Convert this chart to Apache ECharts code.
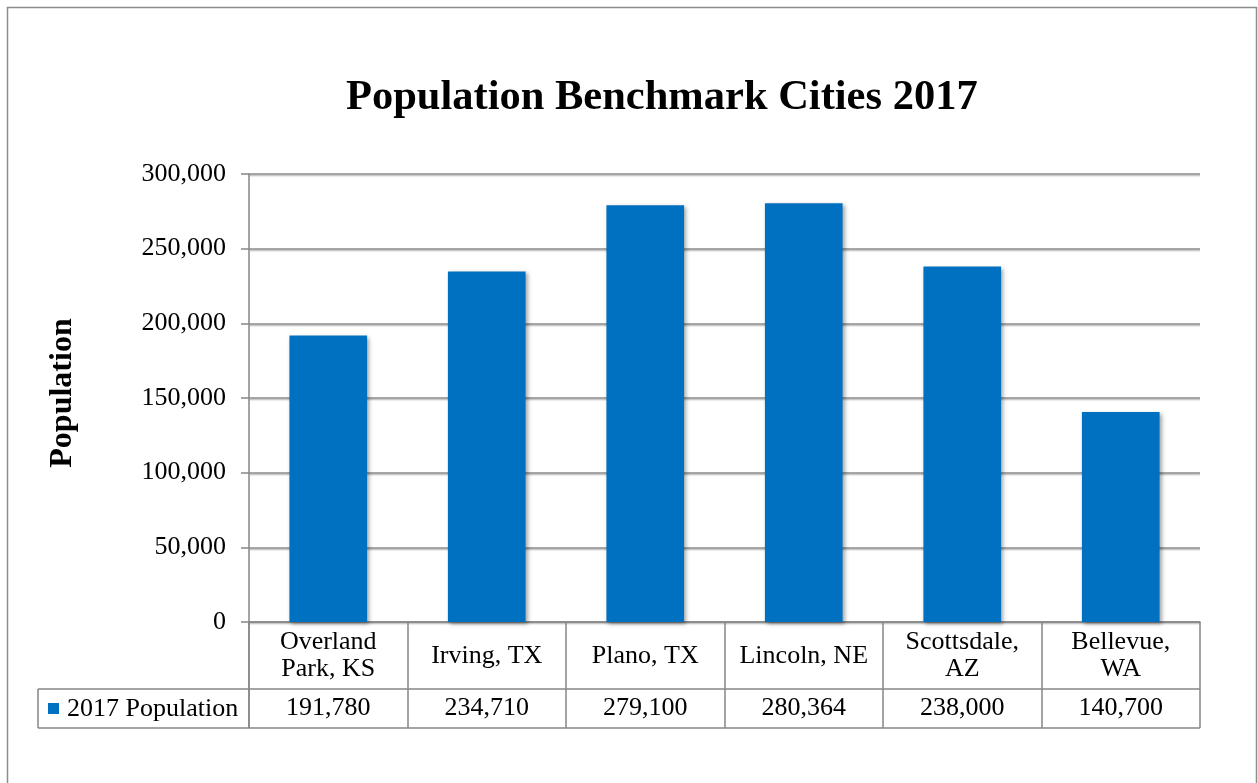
<!DOCTYPE html>
<html>
<head>
<meta charset="utf-8">
<script src="https://cdn.jsdelivr.net/npm/echarts@6/dist/echarts.min.js"></script>
<style>
html,body{margin:0;padding:0;background:#fff;}
#chart{width:1258px;height:783px;}
</style>
</head>
<body>
<div id="chart"></div>
<script>
const chartTitle = 'Population Benchmark Cities 2017';
const seriesName = '2017 Population';
const yAxisName = 'Population';
const categories = ['Overland\nPark, KS', 'Irving, TX', 'Plano, TX', 'Lincoln, NE', 'Scottsdale,\nAZ', 'Bellevue,\nWA'];
const population = [191780, 234710, 279100, 280364, 238000, 140700];
const yTicks = [0, 50000, 100000, 150000, 200000, 250000, 300000];

const FONT = '"Liberation Serif", "Times New Roman", serif';
const fmt = v => v.toLocaleString('en-US');

const G = {left: 249, right: 1200, top: 174, bottom: 622};
const rowMid = 689, rowBot = 728, tableLeft = 38;

const chart = echarts.init(document.getElementById('chart'));
chart.setOption({
  backgroundColor: '#fff',
  animation: false,
  title: {
    text: chartTitle, left: 341, top: 72,
    textStyle: {fontFamily: FONT, fontSize: 42.5, fontWeight: 'bold', color: '#000'}
  },
  grid: {left: G.left, right: 1258 - G.right, top: G.top, bottom: 783 - G.bottom, containLabel: false},
  xAxis: [{
    type: 'category', data: categories, position: 'bottom',
    axisLine: {show: true, lineStyle: {color: '#868686', width: 1.5}},
    axisTick: {show: true, length: rowBot - G.bottom, lineStyle: {color: '#868686', width: 1.5}},
    axisLabel: {fontFamily: FONT, fontSize: 26, color: '#000', lineHeight: 27, margin: 34, verticalAlign: 'middle', interval: 0}
  }, {
    type: 'category', data: population.map(fmt), position: 'bottom',
    axisLine: {show: false}, axisTick: {show: false},
    axisLabel: {fontFamily: FONT, fontSize: 26, color: '#000', margin: 86, verticalAlign: 'middle', interval: 0}
  }],
  yAxis: {
    type: 'value', min: yTicks[0], max: yTicks[yTicks.length - 1], interval: 50000,
    name: yAxisName, nameLocation: 'middle', nameGap: 170, nameRotate: 90,
    nameTextStyle: {fontFamily: FONT, fontSize: 32, fontWeight: 'bold', color: '#000', padding: [0, 0, 0, 10]},
    axisLine: {show: true, lineStyle: {color: '#868686', width: 1.5}},
    axisTick: {show: true, length: 8, lineStyle: {color: '#868686', width: 1.5}},
    axisLabel: {fontFamily: FONT, fontSize: 26, color: '#000', margin: 23, formatter: fmt},
    splitLine: {show: true, lineStyle: {color: '#8a8a8a', width: 1.5, shadowColor: 'rgba(0,0,0,0.25)', shadowOffsetY: 1.5, shadowBlur: 1}}
  },
  series: [{
    name: seriesName, type: 'bar', data: population, barWidth: '49%',
    itemStyle: {color: '#0070C0', shadowColor: 'rgba(0,0,0,0.35)', shadowBlur: 4, shadowOffsetX: 2, shadowOffsetY: 2}
  }],
  graphic: [
    {type: 'rect', shape: {x: 7.5, y: 7.5, width: 1249, height: 800}, style: {fill: null, stroke: '#8c8c8c', lineWidth: 1.5}, z: -1},
    {type: 'line', shape: {x1: tableLeft, y1: rowMid, x2: G.right, y2: rowMid}, style: {stroke: '#868686', lineWidth: 1.5}},
    {type: 'line', shape: {x1: tableLeft, y1: rowBot, x2: G.right, y2: rowBot}, style: {stroke: '#868686', lineWidth: 1.5}},
    {type: 'line', shape: {x1: tableLeft, y1: rowMid, x2: tableLeft, y2: rowBot}, style: {stroke: '#868686', lineWidth: 1.5}},
    {type: 'line', shape: {x1: G.left, y1: G.bottom, x2: G.left, y2: rowBot}, style: {stroke: '#868686', lineWidth: 1.5}},
    {type: 'rect', shape: {x: 48, y: 703, width: 11, height: 11}, style: {fill: '#0070C0'}},
    {type: 'text', x: 67, y: 709, style: {text: seriesName, font: '26px ' + FONT, fill: '#000', verticalAlign: 'middle', textAlign: 'left'}}
  ]
});
</script>
</body>
</html>
